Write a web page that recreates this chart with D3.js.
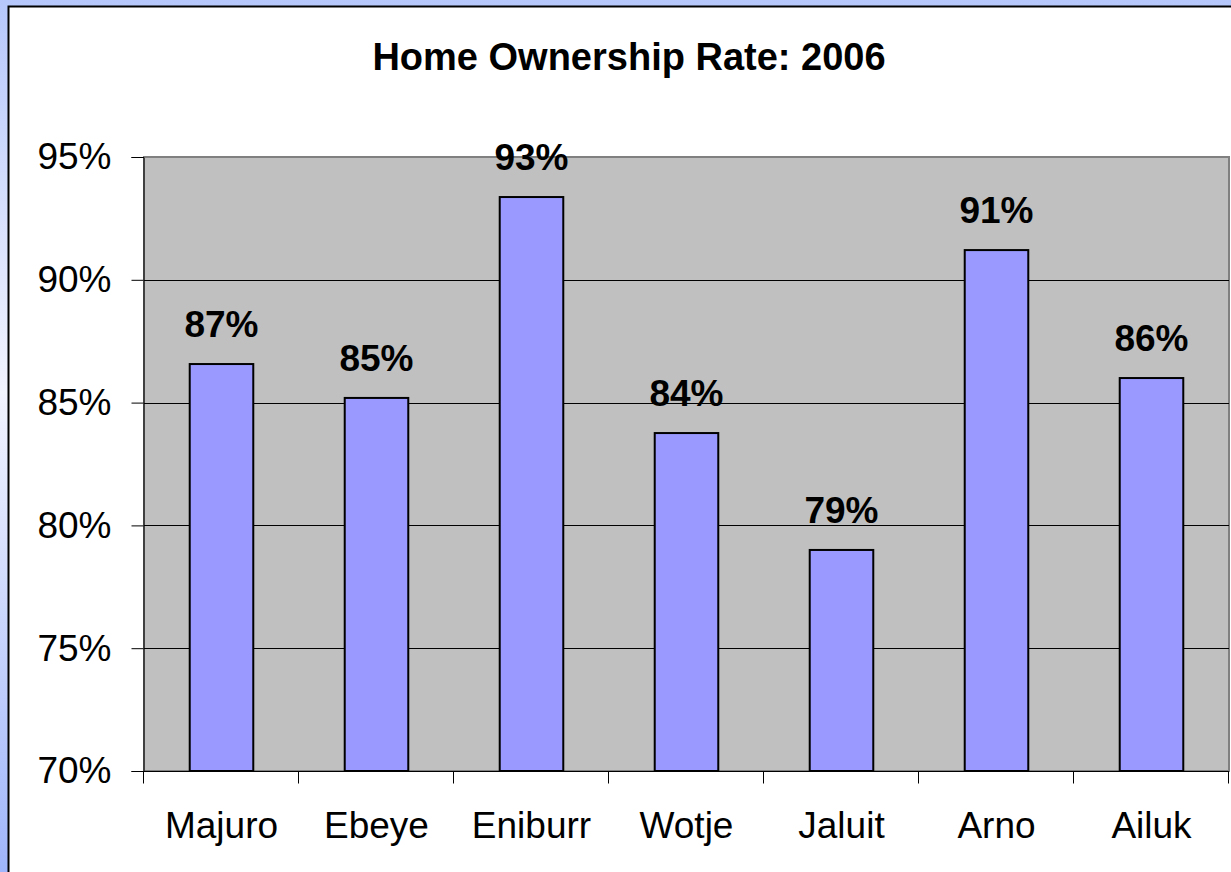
<!DOCTYPE html>
<html>
<head>
<meta charset="utf-8">
<script src="https://cdn.jsdelivr.net/npm/d3@7"></script>
<style>
  body { margin: 0; overflow: hidden; }
  text { font-family: "Liberation Sans", Arial, sans-serif; }
</style>
</head>
<body>
<div id="chart"></div>
<script>
// chart data
const places = ["Majuro", "Ebeye", "Eniburr", "Wotje", "Jaluit", "Arno", "Ailuk"];
const rates = [86.57, 85.19, 93.37, 83.76, 79.0, 91.21, 86.0];
const rateLabels = ["87%", "85%", "93%", "84%", "79%", "91%", "86%"];
const yTicks = [70, 75, 80, 85, 90, 95];
const title = "Home Ownership Rate: 2006";

const width = 1231;
const height = 872;
const plot = { left: 144, right: 1229, top: 157, bottom: 771 };

var svg = d3.select("#chart")
  .append("svg")
  .attr("width", width)
  .attr("height", height);

// light blue backdrop
var grad = svg.append("defs").append("linearGradient")
  .attr("id", "bg")
  .attr("x1", 0).attr("y1", 0).attr("x2", 0).attr("y2", 1);
grad.append("stop").attr("offset", "0%").attr("stop-color", "#b6c7fb");
grad.append("stop").attr("offset", "45%").attr("stop-color", "#f2f4fe");
grad.append("stop").attr("offset", "100%").attr("stop-color", "#9fb5fb");

svg.append("rect")
  .attr("width", width).attr("height", height)
  .attr("fill", "url(#bg)");

// white chart area
svg.append("rect")
  .attr("x", 8.5).attr("y", 6.5)
  .attr("width", width + 20).attr("height", height + 20)
  .attr("fill", "#fff")
  .attr("stroke", "#000")
  .attr("stroke-width", 2);

var x = d3.scaleBand()
  .domain(places)
  .range([plot.left, plot.right])
  .paddingInner(0.59)
  .paddingOuter(0.295);

var y = d3.scaleLinear()
  .domain([70, 95])
  .range([plot.bottom, plot.top]);

// plot area
svg.append("rect")
  .attr("x", plot.left).attr("y", plot.top)
  .attr("width", plot.right - plot.left)
  .attr("height", plot.bottom - plot.top)
  .attr("fill", "#c0c0c0")
  .attr("stroke", "#808080")
  .attr("stroke-width", 2);

// gridlines
svg.append("g")
  .selectAll("line")
  .data(yTicks.slice(1, -1))
  .enter()
  .append("line")
  .attr("x1", plot.left).attr("x2", plot.right)
  .attr("y1", d => Math.round(y(d)) + 0.5)
  .attr("y2", d => Math.round(y(d)) + 0.5)
  .attr("stroke", "#000")
  .attr("stroke-width", 1);

// bars
svg.append("g")
  .selectAll("rect")
  .data(rates)
  .enter()
  .append("rect")
  .attr("x", (d, i) => x(places[i]))
  .attr("y", d => y(d))
  .attr("width", x.bandwidth())
  .attr("height", d => y(70) - y(d))
  .attr("fill", "#9999ff")
  .attr("stroke", "#000")
  .attr("stroke-width", 2);

// value labels
svg.append("g")
  .selectAll("text")
  .data(rates)
  .enter()
  .append("text")
  .attr("x", (d, i) => x(places[i]) + x.bandwidth() / 2)
  .attr("y", d => y(d) - 27)
  .attr("text-anchor", "middle")
  .attr("font-size", 37)
  .attr("font-weight", "bold")
  .text((d, i) => rateLabels[i]);

// y axis
var yAxis = d3.axisLeft(y)
  .tickValues(yTicks)
  .tickSize(12)
  .tickPadding(20)
  .tickFormat(d => d + "%");

var gy = svg.append("g")
  .attr("transform", "translate(" + (plot.left - 0.5) + ",0)")
  .call(yAxis);
gy.select(".domain").attr("stroke", "#000").attr("stroke-width", 1);
gy.selectAll("text")
  .attr("font-size", 37)
  .attr("fill", "#000")
  .attr("font-family", "Liberation Sans, Arial, sans-serif");

// x axis
var gx = svg.append("g")
  .attr("transform", "translate(0," + (plot.bottom + 0.5) + ")");
gx.append("line")
  .attr("x1", plot.left).attr("x2", plot.right)
  .attr("stroke", "#000");
gx.selectAll(".tk")
  .data(places.concat(["end"]))
  .enter()
  .append("line")
  .attr("class", "tk")
  .attr("x1", (d, i) => Math.round(plot.left + i * x.step()) - 0.5)
  .attr("x2", (d, i) => Math.round(plot.left + i * x.step()) - 0.5)
  .attr("y1", 0).attr("y2", 12)
  .attr("stroke", "#000");
gx.selectAll("text")
  .data(places)
  .enter()
  .append("text")
  .attr("x", d => x(d) + x.bandwidth() / 2)
  .attr("y", 66)
  .attr("text-anchor", "middle")
  .attr("font-size", 37)
  .text(d => d);

// title
svg.append("text")
  .attr("x", 629)
  .attr("y", 70)
  .attr("text-anchor", "middle")
  .attr("font-size", 38)
  .attr("font-weight", "bold")
  .text(title);
</script>
</body>
</html>
